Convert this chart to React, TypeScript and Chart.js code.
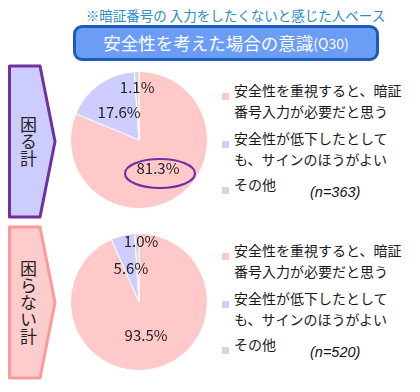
import React, { useEffect, useRef } from "react";
import { Chart, registerables } from "chart.js";

Chart.register(...registerables);

const categories = ["安全性を重視すると、暗証番号入力が必要だと思う", "安全性が低下したとしても、サインのほうがよい", "その他"];
const legendLines = [["安全性を重視すると、暗証", "番号入力が必要だと思う"], ["安全性が低下したとして", "も、サインのほうがよい"], ["その他"]];
const groupLabels = ["困る計", "困らない計"];
const komaruValues = [81.3, 17.6, 1.1];
const komaranaiValues = [93.5, 5.6, 1.0];
const sampleSizes = ["(n=363)", "(n=520)"];
const subtitle = "※暗証番号の 入力をしたくないと感じた人ベース";
const titleMain = "安全性を考えた場合の意識";
const titleCode = "(Q30)";

const sliceColors = ["#ffc9c9", "#cdcdff", "#d6d6d6"];
const JP = '"Noto Sans CJK JP", "Noto Sans", sans-serif';

const labelPlugin = {
  id: "pctLabels",
  afterDatasetsDraw(chart: any, _args: any, opts: any) {
    const ctx = chart.ctx;
    const meta = chart.getDatasetMeta(0);
    const data = chart.data.datasets[0].data as number[];
    ctx.save();
    ctx.font = `15px ${JP}`;
    ctx.fillStyle = "#222";
    ctx.textAlign = "center";
    ctx.textBaseline = "middle";
    meta.data.forEach((arc: any, i: number) => {
      const p = arc.getProps(["x", "y", "startAngle", "endAngle", "outerRadius"], true);
      const mid = (p.startAngle + p.endAngle) / 2;
      const f = (opts.radiusFactors && opts.radiusFactors[i]) || 0.5;
      const dx = (opts.dx && opts.dx[i]) || 0;
      const lx = p.x + Math.cos(mid) * p.outerRadius * f + dx;
      const ly = p.y + Math.sin(mid) * p.outerRadius * f;
      ctx.fillText(data[i].toFixed(1) + "%", lx, ly);
      if (opts.highlight === i) {
        ctx.beginPath();
        ctx.strokeStyle = "#7030a0";
        ctx.lineWidth = 2.2;
        ctx.ellipse(lx + 2, ly + 5, 35, 14.5, 0, 0, Math.PI * 2);
        ctx.stroke();
      }
    });
    ctx.restore();
  },
};

function Pie({ values, top, radiusFactors, dx, highlight }: any) {
  const ref = useRef<HTMLCanvasElement>(null);
  useEffect(() => {
    const chart = new Chart(ref.current as HTMLCanvasElement, {
      type: "pie",
      data: {
        labels: categories,
        datasets: [
          {
            data: values,
            backgroundColor: sliceColors,
            borderColor: "#ffffff",
            borderWidth: 1,
            hoverOffset: 0,
          },
        ],
      },
      options: {
        animation: false,
        responsive: false,
        events: [],
        layout: { padding: 0 },
        plugins: {
          legend: { display: false },
          tooltip: { enabled: false },
          pctLabels: { radiusFactors, dx, highlight },
        } as any,
      },
      plugins: [labelPlugin],
    });
    return () => chart.destroy();
  }, []);
  return (
    <canvas
      ref={ref}
      width={138}
      height={138}
      style={{ position: "absolute", left: 70, top, width: 138, height: 138 }}
    />
  );
}

function SideBox({ top, fill, stroke, label }: any) {
  const h = 151;
  return (
    <>
      <svg style={{ position: "absolute", left: 0, top: 0 }} width={70} height={392}>
        <polygon
          points={`9.5,${top} 40,${top} 55,${top + h / 2} 40,${top + h} 9.5,${top + h}`}
          fill={fill}
          stroke={stroke}
          strokeWidth={3}
          strokeLinejoin="round"
        />
      </svg>
      <div
        style={{
          position: "absolute",
          left: 9,
          top,
          width: 38,
          height: h,
          display: "flex",
          alignItems: "center",
          justifyContent: "center",
        }}
      >
        <div style={{ writingMode: "vertical-rl", fontFamily: JP, fontSize: 17, lineHeight: "20px", color: "#222" }}>{label}</div>
      </div>
    </>
  );
}

function Legend({ top, n }: any) {
  const itemTops = [0, 48, 94];
  return (
    <>
      {legendLines.map((lines, i) => (
        <React.Fragment key={i}>
          <div
            style={{
              position: "absolute",
              left: 222,
              top: top + itemTops[i] + 3,
              width: 7,
              height: 7,
              background: sliceColors[i],
            }}
          />
          <div
            style={{
              position: "absolute",
              left: 234,
              top: top + itemTops[i] - 10,
              fontFamily: JP,
              fontSize: 14,
              lineHeight: "20.5px",
              color: "#1a1a1a",
              whiteSpace: "nowrap",
            }}
          >
            {lines.map((l, j) => (
              <div key={j}>{l}</div>
            ))}
          </div>
        </React.Fragment>
      ))}
      <div
        style={{
          position: "absolute",
          left: 310,
          top: top + 93,
          fontFamily: '"Liberation Sans", Arial, sans-serif',
          fontStyle: "italic",
          fontSize: 14.5,
          lineHeight: "18px",
          color: "#111",
          whiteSpace: "nowrap",
        }}
      >
        {n}
      </div>
    </>
  );
}

export default function App() {
  return (
    <div style={{ position: "fixed", left: 0, top: 0, width: 420, height: 392, background: "#fff", overflow: "hidden" }}>
      <div
        style={{
          position: "absolute",
          left: 0,
          width: 471,
          top: 5,
          textAlign: "center",
          fontFamily: JP,
          fontSize: 13.5,
          lineHeight: "20px",
          color: "#2b8cc4",
          whiteSpace: "nowrap",
        }}
      >
        {subtitle}
      </div>
      <div
        style={{
          position: "absolute",
          left: 73,
          top: 25,
          width: 306,
          height: 36,
          boxSizing: "border-box",
          background: "#6b9cf6",
          border: "3px solid #1d5cb8",
          borderRadius: 9,
          display: "flex",
          alignItems: "center",
          justifyContent: "center",
          color: "#fff",
          fontFamily: JP,
          whiteSpace: "nowrap",
        }}
      >
        <span style={{ fontSize: 17.5, lineHeight: "22px" }}>{titleMain}</span>
        <span style={{ fontSize: 14, lineHeight: "22px" }}>{titleCode}</span>
      </div>
      <SideBox top={66} fill="#ccccff" stroke="#7030a0" label={groupLabels[0]} />
      <SideBox top={227} fill="#ffcccc" stroke="#ff9999" label={groupLabels[1]} />
      <Pie values={komaruValues} top={71} radiusFactors={[0.5, 0.5, 0.77]} dx={[0, 0, 0]} highlight={0} />
      <Pie values={komaranaiValues} top={233} radiusFactors={[0.5, 0.5, 0.88]} dx={[0, 0, 4]} highlight={-1} />
      <Legend top={90} n={sampleSizes[0]} />
      <Legend top={250} n={sampleSizes[1]} />
    </div>
  );
}
